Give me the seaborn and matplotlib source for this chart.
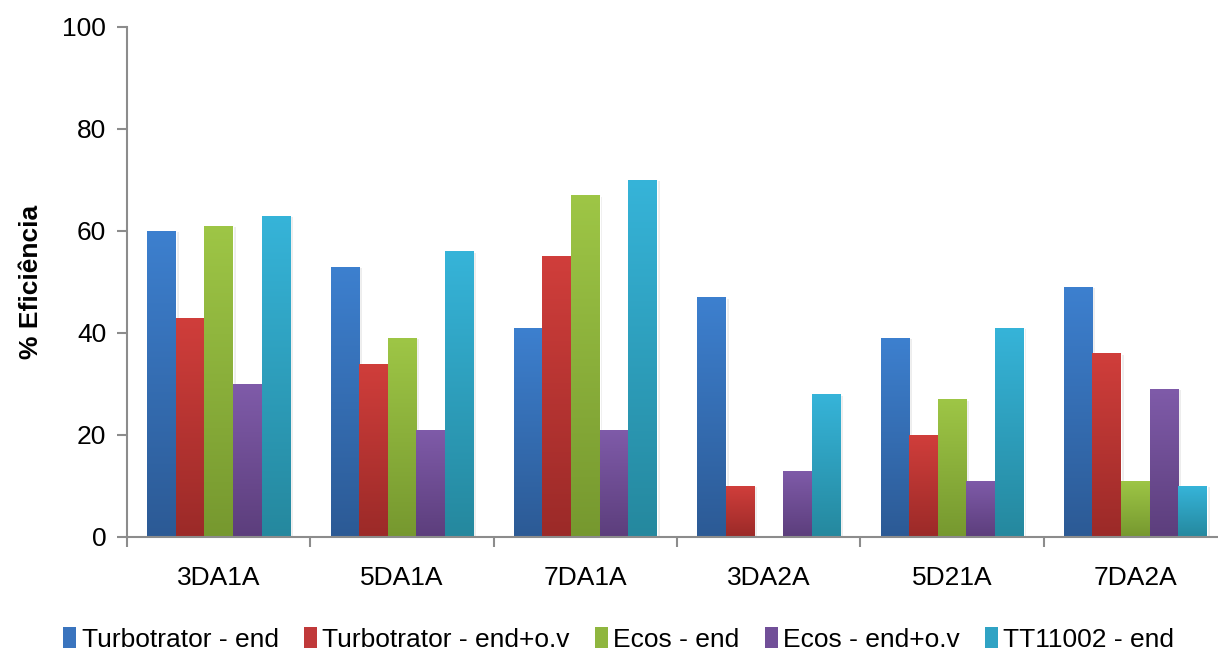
import matplotlib
matplotlib.use("Agg")
import matplotlib.pyplot as plt
import matplotlib.patheffects as pe
from matplotlib.colors import LinearSegmentedColormap
from matplotlib.patches import Patch
import numpy as np
import pandas as pd
import seaborn as sns

# Dados
categorias = ["3DA1A", "5DA1A", "7DA1A", "3DA2A", "5D21A", "7DA2A"]
series = ["Turbotrator - end", "Turbotrator - end+o.v", "Ecos - end",
          "Ecos - end+o.v", "TT11002 - end"]
turbo_end = [60, 53, 41, 47, 39, 49]
turbo_end_ov = [43, 34, 55, 10, 20, 36]
ecos_end = [61, 39, 67, 0, 27, 11]
ecos_end_ov = [30, 21, 21, 13, 11, 29]
tt11002_end = [63, 56, 70, 28, 41, 10]

# cores (topo claro, base escura) de cada série
cores_topo = ["#3D80CF", "#D03E3B", "#9EC646", "#7F5BA9", "#36B4D9"]
cores_base = ["#2C5A95", "#9B2A28", "#76982F", "#5C3E7C", "#25889E"]
cores_leg = ["#3A74BE", "#C0393A", "#8FB63F", "#714F98", "#30A3C4"]

valores = [turbo_end, turbo_end_ov, ecos_end, ecos_end_ov, tt11002_end]
registros = []
for serie, vals in zip(series, valores):
    for cat, v in zip(categorias, vals):
        registros.append({"Categoria": cat, "Serie": serie, "Valor": v})
df = pd.DataFrame(registros)

sns.set_style("white")
plt.rcParams["font.family"] = ["Liberation Sans", "DejaVu Sans"]
plt.rcParams["text.color"] = "black"
plt.rcParams["axes.labelcolor"] = "black"
plt.rcParams["xtick.color"] = "black"
plt.rcParams["ytick.color"] = "black"

FS = 19

fig = plt.figure(figsize=(12.18, 6.56), dpi=100)
ax = fig.add_axes([127 / 1218, 119 / 656, 1100 / 1218, 510 / 656])

sns.barplot(data=df, x="Categoria", y="Valor", hue="Serie", order=categorias,
            hue_order=series, palette=cores_leg, width=0.78, saturation=1,
            ax=ax, legend=False)

# gradiente vertical + sombra leve em cada barra
grad = np.linspace(0, 1, 256).reshape(-1, 1)
for cont, c0, c1 in zip(ax.containers, cores_base, cores_topo):
    cmap = LinearSegmentedColormap.from_list("g", [c0, c1])
    for p in cont.patches:
        h = p.get_height()
        if h <= 0:
            continue
        x, w = p.get_x(), p.get_width()
        p.set_path_effects([pe.SimplePatchShadow(offset=(2, -1), shadow_rgbFace="#000000",
                                                 alpha=0.07), pe.Normal()])
        im = ax.imshow(grad, extent=[x, x + w, 0, h], origin="lower", aspect="auto",
                       cmap=cmap, zorder=p.get_zorder() + 0.1, interpolation="bilinear")
        im.set_clip_path(p)

ax.set_xlim(-0.5, len(categorias) - 0.5)
ax.set_ylim(0, 100)
ax.set_aspect("auto")

# eixos
for lado in ["top", "right"]:
    ax.spines[lado].set_visible(False)
for lado in ["left", "bottom"]:
    ax.spines[lado].set_color("#8C8C8C")
    ax.spines[lado].set_linewidth(1.5)

ax.set_yticks([0, 20, 40, 60, 80, 100])
ax.tick_params(axis="y", direction="out", length=7, width=1.5, color="#8C8C8C",
               labelsize=FS, pad=8, left=True)
ax.set_xticks(range(len(categorias)))
ax.set_xticklabels(categorias)
ax.set_xticks(np.arange(-0.5, len(categorias) + 0.5, 1), minor=True)
ax.tick_params(axis="x", which="major", length=0, labelsize=FS, pad=21)
ax.tick_params(axis="x", which="minor", direction="out", length=7, width=1.5,
               color="#8C8C8C", bottom=True)

ax.set_xlabel("")
ax.set_ylabel("% Eficiência", fontsize=FS, fontweight="bold", labelpad=14)
ax.grid(False)

handles = [Patch(facecolor=c, edgecolor="none") for c in cores_leg]
fig.legend(handles, series, loc="lower center", bbox_to_anchor=(0.508, -0.03), ncol=5,
           frameon=False, fontsize=FS, handlelength=0.5, handleheight=0.85,
           handletextpad=0.2, columnspacing=0.95)

fig.savefig("out.png", dpi=100)
